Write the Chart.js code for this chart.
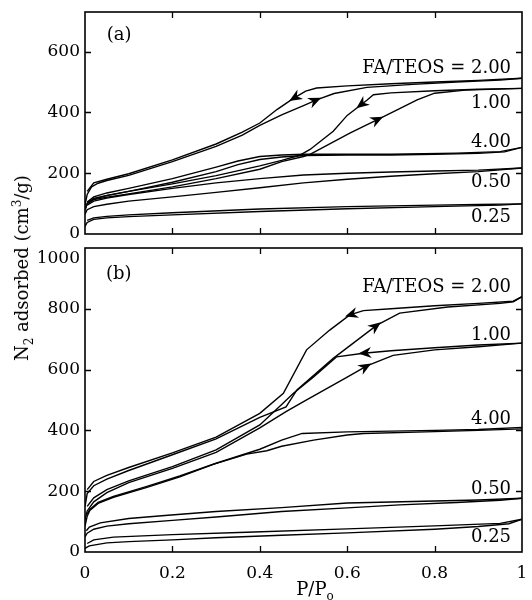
<!DOCTYPE html>
<html><head><meta charset="utf-8">
<script src="https://cdn.jsdelivr.net/npm/chart.js@4/dist/chart.umd.min.js"></script>
<style>
body{margin:0;background:#fff;}
#wrap{position:relative;width:532px;height:600px;overflow:hidden;font-family:"DejaVu Serif",serif;color:#000;}
canvas{position:absolute;left:0;}
#ytitle{position:absolute;left:22px;top:268px;transform:translate(-50%,-50%) rotate(-90deg);white-space:nowrap;font-size:18px;line-height:1;}
#xtitle{position:absolute;left:315px;top:580px;transform:translateX(-50%);white-space:nowrap;font-size:18px;line-height:1;}
sub,sup{font-size:12px;line-height:0;}
</style></head>
<body>
<div id="wrap">
<canvas id="ca" width="532" height="250" style="top:0"></canvas>
<canvas id="cb" width="532" height="364" style="top:236px"></canvas>
<div id="ytitle">N<sub>2</sub> adsorbed (cm<sup>3</sup>/g)</div>
<div id="xtitle">P/P<sub>o</sub></div>
</div>
<script>
// ---------- tick values ----------
const xTickValues = [0, 0.2, 0.4, 0.6, 0.8, 1];
const yTicksA = [0, 200, 400, 600];
const yTicksB = [0, 200, 400, 600, 800, 1000];
const yMaxA = 730, yMaxB = 1000;

// ---------- panel (a) isotherms [P/Po, N2 adsorbed] ----------
const a200ads = [[0,95],[0.005,130],[0.015,155],[0.03,167],[0.05,176],[0.1,193],[0.2,238],[0.3,288],[0.36,325],[0.4,357],[0.45,392],[0.5,422],[0.53,441],[0.57,462],[0.645,482],[0.75,492],[0.85,500],[0.95,506],[1,512]];
const a200des = [[1,512],[0.9,505],[0.8,500],[0.7,494],[0.6,487],[0.53,480],[0.505,470],[0.477,446],[0.44,410],[0.4,365],[0.36,335],[0.3,296],[0.2,244],[0.1,198],[0.05,180],[0.02,168],[0.005,140]];
const a100ads = [[0,80],[0.005,100],[0.02,113],[0.05,121],[0.1,132],[0.2,155],[0.3,182],[0.4,213],[0.45,238],[0.5,255],[0.515,262],[0.606,332],[0.682,385],[0.72,412],[0.76,441],[0.8,463],[0.87,473],[1,479]];
const a100des = [[1,479],[0.9,476],[0.8,471],[0.7,464],[0.66,458],[0.645,440],[0.6,390],[0.568,338],[0.515,278],[0.49,258],[0.45,242],[0.4,224],[0.3,192],[0.2,165],[0.1,140],[0.05,127],[0.02,117],[0.005,103]];
const a400ads = [[0,78],[0.005,100],[0.02,115],[0.05,126],[0.1,140],[0.2,170],[0.3,205],[0.35,228],[0.4,245],[0.45,253],[0.5,258],[0.6,260],[0.7,260],[0.8,262],[0.9,265],[0.96,270],[1,285]];
const a400des = [[1,285],[0.95,271],[0.85,266],[0.7,262],[0.6,262],[0.5,262],[0.45,260],[0.4,255],[0.35,240],[0.3,220],[0.2,182],[0.1,150],[0.05,135],[0.02,122],[0.005,105]];
const a050ads = [[0,65],[0.005,80],[0.02,90],[0.05,98],[0.1,108],[0.2,122],[0.3,137],[0.4,152],[0.5,168],[0.6,180],[0.7,190],[0.8,198],[0.9,205],[1,217]];
const a050des = [[1,217],[0.9,210],[0.8,207],[0.7,204],[0.6,200],[0.5,194],[0.4,182],[0.3,168],[0.2,150],[0.1,130],[0.05,118],[0.02,108],[0.005,95]];
const a025ads = [[0,25],[0.005,38],[0.02,48],[0.05,53],[0.1,57],[0.2,63],[0.4,74],[0.6,83],[0.8,90],[0.95,95],[1,99]];
const a025des = [[1,99],[0.9,97],[0.8,95],[0.6,90],[0.4,82],[0.2,70],[0.1,63],[0.05,58],[0.02,53],[0.005,45]];

// ---------- panel (b) isotherms ----------
const b200ads = [[0,150],[0.005,192],[0.02,218],[0.05,240],[0.1,268],[0.2,320],[0.3,372],[0.4,443],[0.46,477],[0.485,533],[0.568,637],[0.668,746],[0.72,786],[0.83,806],[0.95,818],[0.98,823],[1,840]];
const b200des = [[1,840],[0.98,825],[0.9,818],[0.8,810],[0.7,800],[0.637,794],[0.606,780],[0.56,730],[0.507,665],[0.454,522],[0.4,456],[0.3,378],[0.2,326],[0.1,278],[0.05,252],[0.02,232],[0.005,205]];
const b100ads = [[0,105],[0.005,135],[0.02,165],[0.05,195],[0.1,228],[0.2,275],[0.3,328],[0.4,408],[0.46,462],[0.5,495],[0.6,575],[0.645,612],[0.705,647],[0.8,665],[0.9,675],[1,687]];
const b100des = [[1,687],[0.9,681],[0.8,672],[0.7,662],[0.637,654],[0.576,642],[0.523,576],[0.477,522],[0.45,485],[0.4,418],[0.3,336],[0.2,281],[0.1,234],[0.05,205],[0.02,178],[0.005,150]];
const b400ads = [[0,85],[0.005,118],[0.011,137],[0.03,160],[0.065,180],[0.14,212],[0.217,247],[0.293,288],[0.37,322],[0.416,333],[0.45,348],[0.523,368],[0.6,385],[0.637,390],[0.8,396],[0.9,400],[1,405]];
const b400des = [[1,410],[0.9,403],[0.8,400],[0.6,395],[0.497,390],[0.45,368],[0.4,338],[0.3,292],[0.217,250],[0.14,215],[0.065,183],[0.03,163],[0.011,140],[0.005,125]];
const b050ads = [[0,50],[0.005,62],[0.02,75],[0.05,85],[0.1,93],[0.2,104],[0.3,115],[0.45,133],[0.6,145],[0.72,155],[0.85,163],[0.95,170],[1,177]];
const b050des = [[1,177],[0.9,171],[0.8,168],[0.6,161],[0.45,146],[0.3,133],[0.19,121],[0.1,110],[0.035,96],[0.01,82],[0.003,70]];
const b025ads = [[0,12],[0.01,20],[0.05,30],[0.1,34],[0.2,40],[0.3,47],[0.45,55],[0.6,63],[0.8,75],[0.9,84],[0.97,93],[1,108]];
const b025des = [[1,108],[0.95,94],[0.8,86],[0.6,76],[0.37,65],[0.2,57],[0.065,49],[0.02,40],[0.005,28]];

// ---------- annotations: [text, P/Po, value, align] ----------
const labelsA = [['(a)',0.05,652,'left'],['FA/TEOS = 2.00',0.975,546,'right'],['1.00',0.975,431,'right'],['4.00',0.975,303,'right'],['0.50',0.975,169,'right'],['0.25',0.975,54,'right']];
const labelsB = [['(b)',0.048,912,'left'],['FA/TEOS = 2.00',0.975,869,'right'],['1.00',0.975,714,'right'],['4.00',0.975,435,'right'],['0.50',0.975,207,'right'],['0.25',0.975,48,'right']];
// arrows: [series label, P/Po position]
const arrowsA = [['2.00 des',0.477],['2.00 ads',0.53],['1.00 des',0.63],['1.00 ads',0.672]];
const arrowsB = [['2.00 des',0.606],['2.00 ads',0.668],['1.00 des',0.637],['1.00 ads',0.645]];

const FONT = {family:'"DejaVu Serif", serif', size:17};

function ds(label, arr){
  return {label, data: arr.map(p=>({x:p[0], y:p[1]})), showLine:true, borderColor:'#000', borderWidth:1.4, pointRadius:0, tension:0, fill:false};
}

const framePlugin = {
  id:'frame',
  afterDraw(chart, args, opts){
    const ctx = chart.ctx, a = chart.chartArea, xs = chart.scales.x, ys = chart.scales.y;
    ctx.save();
    ctx.strokeStyle = '#000';
    ctx.lineWidth = 1.6;
    ctx.strokeRect(a.left, a.top, a.right - a.left, a.bottom - a.top);
    ctx.lineWidth = 1.3;
    const L = 6;
    ctx.beginPath();
    xTickValues.forEach(v=>{
      if (v<=xs.min || v>=xs.max) return;
      const px = Math.round(xs.getPixelForValue(v))+0.5;
      ctx.moveTo(px, a.bottom); ctx.lineTo(px, a.bottom-L);
      ctx.moveTo(px, a.top); ctx.lineTo(px, a.top+L);
    });
    opts.yticks.forEach(v=>{
      if (v<=ys.min || v>=ys.max) return;
      const py = Math.round(ys.getPixelForValue(v))+0.5;
      ctx.moveTo(a.left, py); ctx.lineTo(a.left+L, py);
      ctx.moveTo(a.right, py); ctx.lineTo(a.right-L, py);
    });
    ctx.stroke();
    // text annotations
    ctx.fillStyle = '#000';
    ctx.font = '18px "DejaVu Serif", serif';
    ctx.textBaseline = 'middle';
    opts.labels.forEach(l=>{
      ctx.textAlign = l[3];
      ctx.fillText(l[0], xs.getPixelForValue(l[1]), ys.getPixelForValue(l[2]));
    });
    // arrows
    opts.arrows.forEach(ar=>{
      const d = chart.data.datasets.find(s=>s.label===ar[0]);
      if (!d) return;
      const pts = d.data;
      for (let i=0;i<pts.length-1;i++){
        const x1=pts[i].x, x2=pts[i+1].x;
        if ((ar[1]-x1)*(ar[1]-x2) <= 0 && x1!==x2){
          const t = (ar[1]-x1)/(x2-x1);
          const p1x = xs.getPixelForValue(x1), p1y = ys.getPixelForValue(pts[i].y);
          const p2x = xs.getPixelForValue(x2), p2y = ys.getPixelForValue(pts[i+1].y);
          const cx = p1x + t*(p2x-p1x), cy = p1y + t*(p2y-p1y);
          const ang = Math.atan2(p2y-p1y, p2x-p1x);
          ctx.save();
          ctx.translate(cx, cy);
          ctx.rotate(ang);
          ctx.beginPath();
          ctx.moveTo(5,0);
          ctx.lineTo(-8,5.5);
          ctx.lineTo(-4,0);
          ctx.lineTo(-8,-5.5);
          ctx.closePath();
          ctx.fill();
          ctx.restore();
          break;
        }
      }
    });
    ctx.restore();
  }
};

function makeChart(id, datasets, yMax, yTicks, labels, arrows, showX, padBottom){
  return new Chart(document.getElementById(id), {
    type:'scatter',
    data:{datasets},
    options:{
      responsive:false, devicePixelRatio:1, animation:false,
      layout:{padding:{left:0, right:10, top:12, bottom:padBottom}},
      plugins:{legend:{display:false}, tooltip:{enabled:false}, frame:{yticks:yTicks, labels, arrows}},
      scales:{
        x:{type:'linear', min:0, max:1, display:showX,
          grid:{display:false, drawTicks:false}, border:{display:false},
          afterBuildTicks:s=>{s.ticks = xTickValues.map(v=>({value:v}));},
          afterFit:s=>{s.height = showX ? 48 : 0; s.paddingLeft=0; s.paddingRight=0;},
          ticks:{color:'#000', font:FONT, padding:11, autoSkip:false, maxRotation:0,
            callback:v=> (v===0||v===1) ? String(v) : v.toFixed(1)}
        },
        y:{type:'linear', min:0, max:yMax,
          grid:{display:false, drawTicks:false}, border:{display:false},
          afterBuildTicks:s=>{s.ticks = yTicks.map(v=>({value:v}));},
          afterFit:s=>{s.width = 85; s.paddingTop=0; s.paddingBottom=0;},
          ticks:{color:'#000', font:FONT, padding:5, autoSkip:false,
            callback:v=> v===1000 ? ['', '1000'] : String(v)}
        }
      }
    },
    plugins:[framePlugin]
  });
}

makeChart('ca', [
  ds('2.00 ads',a200ads), ds('2.00 des',a200des),
  ds('1.00 ads',a100ads), ds('1.00 des',a100des),
  ds('4.00 ads',a400ads), ds('4.00 des',a400des),
  ds('0.50 ads',a050ads), ds('0.50 des',a050des),
  ds('0.25 ads',a025ads), ds('0.25 des',a025des)
], yMaxA, yTicksA, labelsA, arrowsA, false, 16);

makeChart('cb', [
  ds('2.00 ads',b200ads), ds('2.00 des',b200des),
  ds('1.00 ads',b100ads), ds('1.00 des',b100des),
  ds('4.00 ads',b400ads), ds('4.00 des',b400des),
  ds('0.50 ads',b050ads), ds('0.50 des',b050des),
  ds('0.25 ads',b025ads), ds('0.25 des',b025des)
], yMaxB, yTicksB, labelsB, arrowsB, true, 0);
</script>
</body></html>
